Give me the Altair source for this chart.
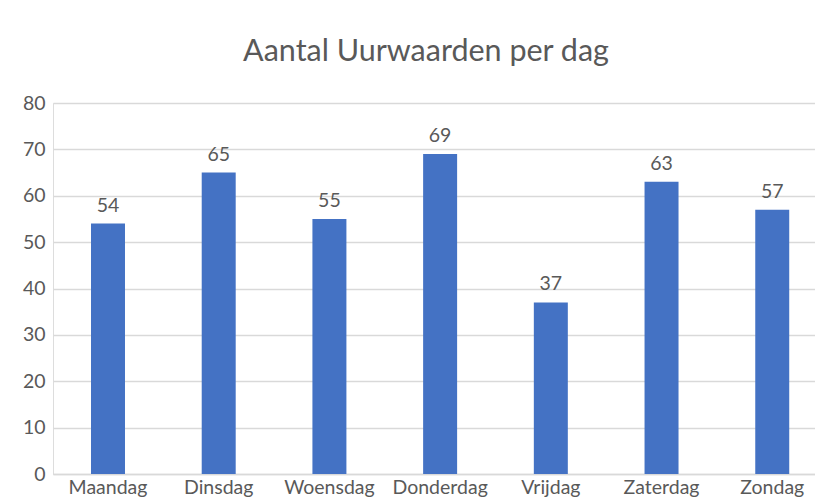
import altair as alt
import pandas as pd

days = ["Maandag", "Dinsdag", "Woensdag", "Donderdag", "Vrijdag", "Zaterdag", "Zondag"]
counts = [54, 65, 55, 69, 37, 63, 57]
y_ticks = [0, 10, 20, 30, 40, 50, 60, 70, 80]

df = pd.DataFrame({"dag": days, "aantal": counts})

FONT = "Lato"
GREY = "#595959"

x = alt.X(
    "dag:N",
    sort=days,
    title=None,
    scale=alt.Scale(paddingInner=0.693, paddingOuter=0.288, align=0.596),
    axis=alt.Axis(labelAngle=0, labelFont=FONT, labelFontSize=19.5, labelColor=GREY,
                  labelPadding=4, ticks=False, domainColor="#d9d9d9", domainWidth=1.3,
                  grid=False),
)
y = alt.Y(
    "aantal:Q",
    title=None,
    scale=alt.Scale(domain=[0, 80], nice=False),
    axis=alt.Axis(values=y_ticks, labelFont=FONT, labelFontSize=19.5, labelColor=GREY,
                  labelPadding=8, ticks=False, domain=False, gridColor="#d9d9d9",
                  gridWidth=1.3),
)

bars = alt.Chart(df).mark_bar(color="#4472C4").encode(x=x, y=y)
labels = alt.Chart(df).mark_text(
    baseline="alphabetic", dy=-12, font=FONT, fontSize=19.5, color=GREY
).encode(x=x, y=y, text="aantal:Q")

chart = (
    alt.layer(bars, labels)
    .properties(
        width=762,
        height=371,
        autosize=alt.AutoSizeParams(type="none"),
        padding={"left": 45, "top": 95, "right": 0, "bottom": 26},
        title=alt.TitleParams(
            "Aantal Uurwaarden per dag", font=FONT, fontSize=30.5, fontWeight="normal",
            color=GREY, anchor="middle", frame="group", dx=-8, offset=26,
        ),
    )
    .configure_view(stroke=None)
    .configure(background="white")
)

chart.save("out.html", embed_options={"renderer": "svg", "actions": False})
